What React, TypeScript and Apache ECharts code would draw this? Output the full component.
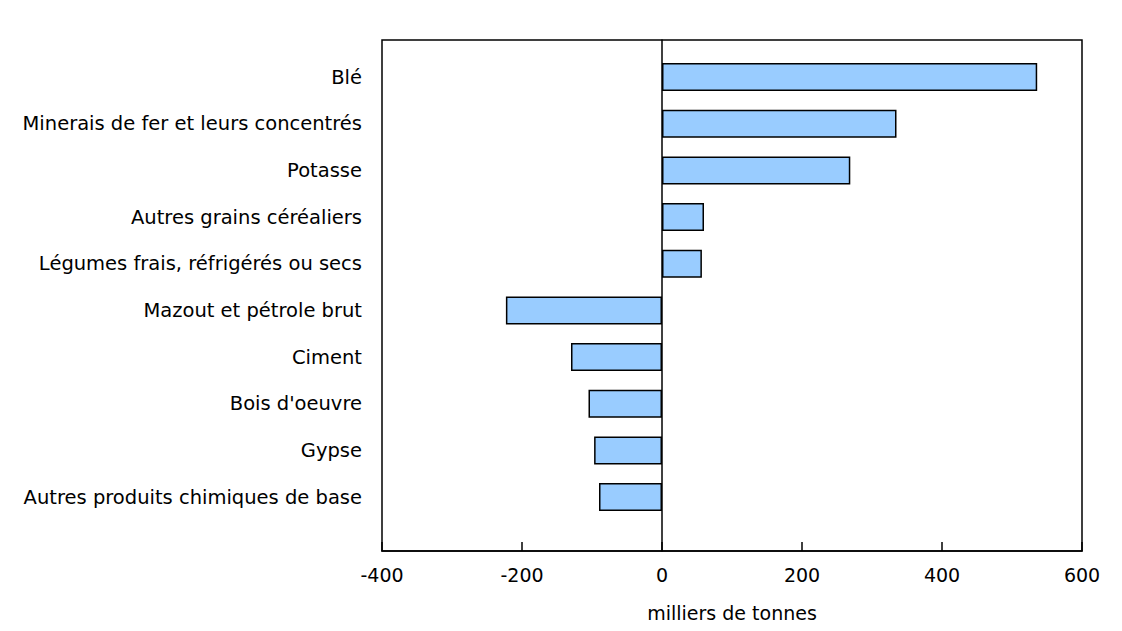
import * as echarts from 'echarts';
import React, { useEffect, useRef } from 'react';

const categories = [
  'Blé',
  'Minerais de fer et leurs concentrés',
  'Potasse',
  'Autres grains céréaliers',
  'Légumes frais, réfrigérés ou secs',
  'Mazout et pétrole brut',
  'Ciment',
  "Bois d'oeuvre",
  'Gypse',
  'Autres produits chimiques de base',
];
const values = [536, 335, 269, 60, 57, -223, -130, -105, -97, -90];
const xTicks = [-400, -200, 0, 200, 400, 600];
const xTitle = 'milliers de tonnes';

const FONT = 'Verdana, "DejaVu Sans", sans-serif';

const App: React.FC = () => {
  const ref = useRef<HTMLDivElement>(null);

  useEffect(() => {
    document.body.style.margin = '0';
    const chart = echarts.init(ref.current, null, { renderer: 'svg' });
    const xMin = xTicks[0];
    const xMax = xTicks[xTicks.length - 1];
    chart.setOption({
      animation: false,
      grid: [
        {
          left: 382,
          right: 40,
          top: 40,
          height: 511,
          show: true,
          borderColor: '#000',
          borderWidth: 1.5,
          backgroundColor: 'transparent',
        },
        { left: 382, right: 40, top: 53.7, height: 466.7 },
      ],
      xAxis: [
        {
          gridIndex: 0,
          type: 'value',
          min: xMin,
          max: xMax,
          interval: 200,
          name: xTitle,
          nameLocation: 'middle',
          nameGap: 52,
          nameTextStyle: { color: '#000', fontSize: 19, fontFamily: FONT },
          axisLine: { show: true, lineStyle: { color: '#000', width: 1.5 } },
          axisTick: { show: true, inside: true, length: 9, lineStyle: { color: '#000', width: 1.5 } },
          axisLabel: { color: '#000', fontSize: 19, fontFamily: FONT, margin: 14 },
          splitLine: { show: false },
        },
        {
          gridIndex: 1,
          type: 'value',
          min: xMin,
          max: xMax,
          interval: 200,
          show: false,
        },
      ],
      yAxis: [
        {
          gridIndex: 0,
          type: 'value',
          min: 0,
          max: 1,
          axisLine: { show: true, onZero: true, lineStyle: { color: '#000', width: 1.5 } },
          axisTick: { show: false },
          axisLabel: { show: false },
          splitLine: { show: false },
        },
        {
          gridIndex: 1,
          type: 'category',
          inverse: true,
          data: categories,
          axisLine: { show: false },
          axisTick: { show: false },
          axisLabel: { color: '#000', fontSize: 19.5, fontFamily: FONT, margin: 20 },
          splitLine: { show: false },
        },
      ],
      series: [
        {
          type: 'bar',
          xAxisIndex: 1,
          yAxisIndex: 1,
          data: values,
          barWidth: 28,
          itemStyle: { color: '#99CCFF', borderColor: '#000', borderWidth: 1.5 },
        },
      ],
    });
    return () => {
      chart.dispose();
    };
  }, []);

  return <div ref={ref} style={{ width: 1122, height: 631 }}></div>;
};

export default App;
